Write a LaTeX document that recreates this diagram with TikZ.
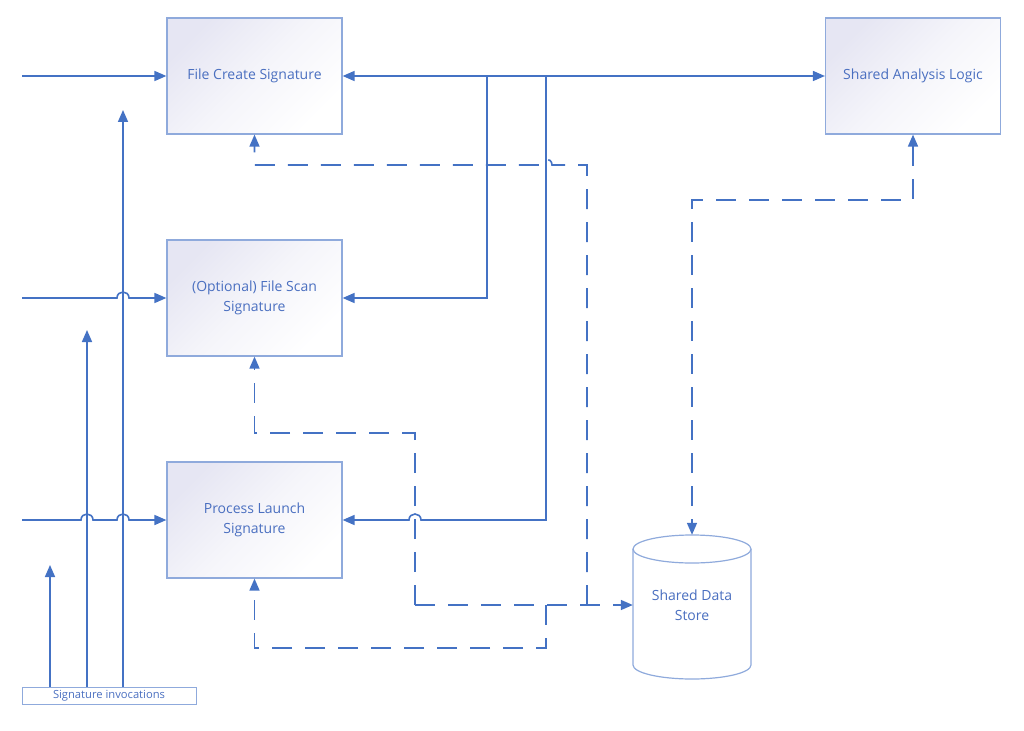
\documentclass[tikz,border=0pt]{standalone}
\usepackage{fontspec}
\setmainfont{Open Sans}
\usetikzlibrary{arrows.meta}
\definecolor{ln}{HTML}{4472C4}
\definecolor{bd}{HTML}{8FAADC}
\definecolor{lav}{HTML}{E6E6F3}
\definecolor{tx}{HTML}{4A6FC0}
\begin{document}
\begin{tikzpicture}[x=1pt,y=-1pt,
  box/.style={draw=bd, line width=1.2pt, top color=lav, bottom color=white, middle color=white!60!lav, shading angle=45,
    minimum width=175pt, minimum height=116pt, inner sep=0pt, align=center, text=tx,
    font=\fontsize{14}{20}\selectfont},
  conn/.style={draw=ln, line width=1.6pt},
  arr/.style={-{Triangle[length=12pt,width=10pt]}},
  barr/.style={{Triangle[length=12pt,width=10pt]}-{Triangle[length=12pt,width=10pt]}},
  dline/.style={dash pattern=on 20pt off 13pt},
  lbl/.style={text=tx, align=center, font=\fontsize{14}{20}\selectfont}
]
\useasboundingbox (0,0) rectangle (1024,730);

% boxes
\node[box] (fc) at (254.5,76) {File Create Signature};
\node[box] (fs) at (254.5,298) {(Optional) File Scan\\Signature};
\node[box] (pl) at (254.5,520) {Process Launch\\Signature};
\node[box] (sa) at (913,76) {Shared Analysis Logic};

% cylinder
\draw[bd, line width=1.2pt, fill=white] (633,549) -- (633,665)
  arc[start angle=180, end angle=360, x radius=59pt, y radius=14pt] -- (751,549);
\draw[bd, line width=1.2pt, fill=white] (692,549) ellipse[x radius=59pt, y radius=14pt];
\node[lbl, minimum width=118pt, minimum height=140pt, inner sep=0pt] (ds) at (692,605) {Shared Data\\Store};

% invocations box
\node[draw=bd, line width=1pt, minimum width=174pt, minimum height=17pt, inner sep=0pt,
  text=tx, font=\fontsize{11.2}{12}\selectfont] (inv) at (109,695.5) {Signature invocations};

% coordinates
\coordinate (i1) at (22,76);
\coordinate (i2) at (22,298);
\coordinate (i3) at (22,520);
\coordinate (v1) at (50,565);
\coordinate (v2) at (87,330);
\coordinate (v3) at (123,110);
\coordinate (j1) at (487,76);
\coordinate (j2) at (546,76);

% inputs
\draw[conn, arr] (i1) -- (fc.west);
\draw[conn, arr] (i2) -- (117,298) .. controls (117,290) and (129,290) .. (129,298) -- (fs.west);
\draw[conn, arr] (i3) -- (81,520) .. controls (81,512) and (93,512) .. (93,520)
  -- (117,520) .. controls (117,512) and (129,512) .. (129,520) -- (pl.west);

% invocation verticals
\draw[conn, arr] (inv.north -| v1) -- (v1);
\draw[conn, arr] (inv.north -| v2) -- (v2);
\draw[conn, arr] (inv.north -| v3) -- (v3);

% top bus
\draw[conn, barr] (fc.east) -- (sa.west);
\draw[conn, arr] (j1) |- (fs.east);
\draw[conn, arr] (j2) -- (546,520) -- (421,520) .. controls (421,512) and (409,512) .. (409,520) -- (pl.east);

% dashed
\draw[conn, dline, arr] (587,605) -- (587,165) -- (552,165) .. controls (552,157) and (540,157) .. (540,165) -- (254.5,165) -- (fc.south);
\draw[conn, dline, arr] (415,605) -- (415,433) -- (254.5,433) -- (fs.south);
\draw[conn, dline, arr] (546,605) -- (546,648) -- (254.5,648) -- (pl.south);
\draw[conn, dline, arr] (415,605) -- (ds.west);
\draw[conn, dline, barr] (sa.south) -- (913,200) -- (692,200) -- (ds.north);
\end{tikzpicture}
\end{document}
